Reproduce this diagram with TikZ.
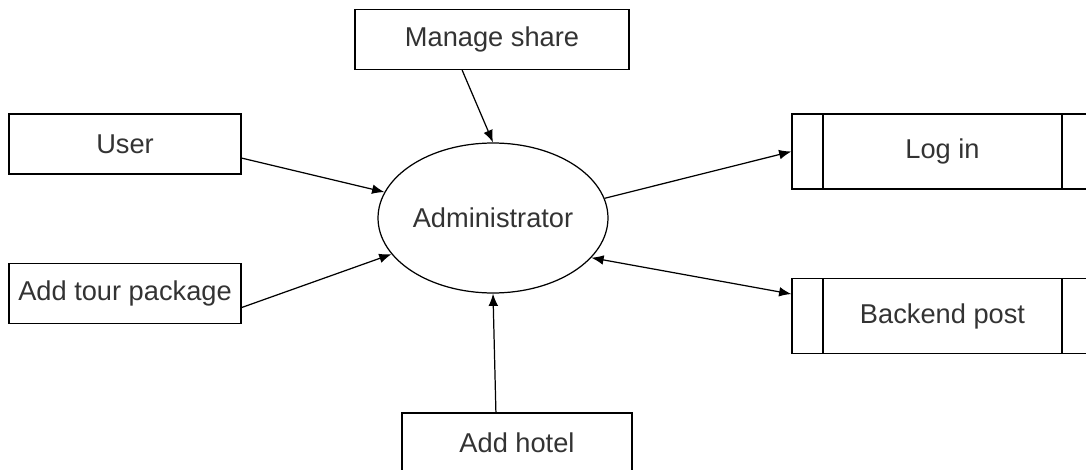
\documentclass[tikz,border=0pt]{standalone}
\usepackage{fontspec}
\setmainfont{Liberation Sans}
\usetikzlibrary{shapes.geometric,arrows.meta}
\tikzset{
  box/.style={draw, line width=0.7pt, rectangle, minimum width=4.64cm, minimum height=1.2cm,
    inner sep=0pt, font=\fontsize{15.5}{18}\selectfont, text=black!80},
  proc/.style={draw, line width=0.7pt, ellipse, minimum width=4.6cm, minimum height=3cm,
    inner sep=0pt, font=\fontsize{15.5}{18}\selectfont, text=black!80},
  store/.style={box, minimum width=6.02cm, minimum height=1.5cm,
    path picture={
      \draw[line width=0.7pt] ([xshift=0.62cm]path picture bounding box.north west) -- ([xshift=0.62cm]path picture bounding box.south west);
      \draw[line width=0.7pt] ([xshift=-0.62cm]path picture bounding box.north east) -- ([xshift=-0.62cm]path picture bounding box.south east);}},
  flow/.style={line width=0.7pt, -{Latex[length=7pt,width=5.5pt]}}
}
\begin{document}
\begin{tikzpicture}[x=0.02cm, y=-0.02cm]
  \useasboundingbox (0,0) rectangle (1086,470);
  \node[box, minimum width=5.48cm] (share) at (492,39.5) {Manage share};
  \node[box] (user) at (125,144) {User};
  \node[box] (tour) at (125,293.5) {Add tour package};
  \node[proc] (admin) at (493,218) {Administrator};
  \node[box, minimum width=4.6cm] (hotel) at (517,443) {Add hotel};
  \node[store] (login) at (942.5,151.5) {Log in};
  \node[store] (backend) at (942.5,316) {Backend post};
  \draw[flow] ([yshift=-8pt]user.east) -- (admin);
  \draw[flow] ([yshift=-8pt]tour.east) -- (admin);
  \draw[flow] ([xshift=-17pt]share.south) -- (admin.north);
  \draw[flow] ([xshift=-12pt]hotel.north) -- (admin.south);
  \draw[flow] (admin.10) -- (login.west);
  \draw[flow, {Latex[length=7pt,width=5.5pt]}-{Latex[length=7pt,width=5.5pt]}] (admin.-22) -- ([yshift=12.5pt]backend.west);
\end{tikzpicture}
\end{document}
